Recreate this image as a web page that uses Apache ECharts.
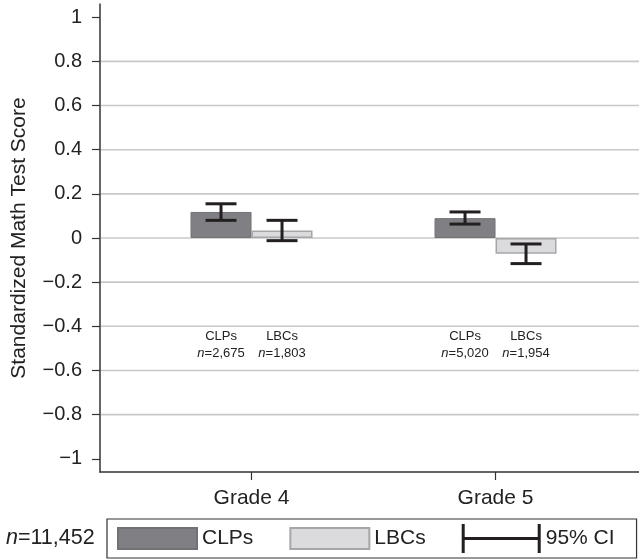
<!DOCTYPE html>
<html><head><meta charset="utf-8">
<script src="https://cdn.jsdelivr.net/npm/echarts@6/dist/echarts.min.js"></script>
<style>html,body{margin:0;padding:0;background:#fff}#c{width:639px;height:560px}</style>
</head><body><div id="c"></div>
<script>
// ---- data ----
const categories = ['Grade 4', 'Grade 5'];
const catPos = [1, 2];
const groups = ['CLPs', 'LBCs'];
const clpMeans = [0.118, 0.090];
const lbcMeans = [0.034, -0.071];
const clpLow = [0.080, 0.063];
const clpHigh = [0.155, 0.118];
const lbcLow = [-0.012, -0.116];
const lbcHigh = [0.080, -0.027];
const clpN = ['2,675', '5,020'];
const lbcN = ['1,803', '1,954'];
const totalN = '11,452';
const yTicks = [-1, -0.8, -0.6, -0.4, -0.2, 0, 0.2, 0.4, 0.6, 0.8, 1];
const gridValues = [-0.8, -0.6, -0.4, -0.2, 0, 0.2, 0.4, 0.6, 0.8];
const ciName = '95% CI';

// ---- style config ----
const FONT = 'Liberation Sans, Arial, Helvetica, sans-serif';
const X_MIN = 0.379, X_MAX = 2.588;
const BAR_W = 61;
const CAP_W = 31;
const annoY = -0.486;
const ERR_COLOR = '#231f20';
const GRID_COLOR = '#c8c8c8';

const errData = [];
catPos.forEach((x, i) => {
  errData.push([x, clpLow[i], clpHigh[i], 0]);
  errData.push([x, lbcLow[i], lbcHigh[i], 1]);
});
const annoData = [];
catPos.forEach((x, i) => {
  annoData.push([x, annoY, 0, clpN[i]]);
  annoData.push([x, annoY, 1, lbcN[i]]);
});
const gridData = gridValues.map(v => [catPos[0], v, v, 0]);

const chart = echarts.init(document.getElementById('c'), null, {renderer: 'canvas'});
chart.setOption({
  animation: false,
  textStyle: {fontFamily: FONT},
  title: {
    text: '{i|n}{r|=' + totalN + '}',
    left: 6, top: 527, padding: 0,
    textStyle: {fontWeight: 'normal', rich: {
      i: {fontStyle: 'italic', fontWeight: 'normal', fontSize: 21.5, color: '#222', fontFamily: FONT},
      r: {fontWeight: 'normal', fontSize: 21.5, color: '#222', fontFamily: FONT}
    }}
  },
  legend: {
    data: [
      {name: groups[0], icon: 'path://M0,0H79V21H0Z'},
      {name: groups[1], icon: 'path://M0,0H79V21H0Z'},
      {name: ciName, icon: 'path://M0,0H3V29H0Z M3,13H76V16H3Z M76,0H79V29H76Z'}
    ],
    left: 107, top: 519,
    padding: [5, 22, 5, 10],
    itemWidth: 79, itemHeight: 29, itemGap: 36,
    borderColor: '#333', borderWidth: 1.2,
    selectedMode: false,
    textStyle: {fontSize: 21, color: '#222', fontFamily: FONT}
  },
  grid: {left: 100, right: 0, top: 4, bottom: 88},
  xAxis: {
    type: 'value', min: X_MIN, max: X_MAX,
    axisLine: {show: true, onZero: false, lineStyle: {color: '#333', width: 1.5}},
    axisTick: {show: true, length: 8, customValues: catPos, lineStyle: {color: '#333', width: 1.2}},
    axisLabel: {customValues: catPos, margin: 16, fontSize: 21, color: '#222',
      formatter: v => categories[catPos.indexOf(Math.round(v))]},
    splitLine: {show: false}
  },
  yAxis: {
    type: 'value', min: -1.06, max: 1.06,
    name: 'Standardized Math Test Score', nameLocation: 'middle', nameGap: 70,
    nameTextStyle: {fontSize: 21, color: '#222', fontFamily: FONT},
    axisLine: {show: true, onZero: false, lineStyle: {color: '#333', width: 1.5}},
    axisTick: {show: true, length: 8, customValues: yTicks, lineStyle: {color: '#333', width: 1.2}},
    axisLabel: {customValues: yTicks, margin: 18, fontSize: 20, color: '#222',
      formatter: v => (v < 0 ? '\u2212' : '') + String(+Math.abs(v).toFixed(1))},
    splitLine: {show: false}
  },
  series: [
    {
      name: groups[0], type: 'bar', barWidth: BAR_W, barGap: '0%', z: 3,
      itemStyle: {color: '#808084', borderColor: '#727276', borderWidth: 1},
      data: catPos.map((x, i) => [x, clpMeans[i]])
    },
    {
      name: groups[1], type: 'bar', barWidth: BAR_W, barGap: '0%', z: 3,
      itemStyle: {color: '#dbdbdd', borderColor: '#a6a6a9', borderWidth: 1.5},
      data: catPos.map((x, i) => [x, lbcMeans[i]])
    },
    {
      name: ciName, type: 'custom', z: 5,
      itemStyle: {color: ERR_COLOR},
      data: errData,
      renderItem: (params, api) => {
        const off = (api.value(3) === 0 ? -1 : 1) * BAR_W / 2;
        const lo = api.coord([api.value(0), api.value(1)]);
        const hi = api.coord([api.value(0), api.value(2)]);
        const cx = lo[0] + off;
        const st = {stroke: ERR_COLOR, lineWidth: 3, fill: null};
        return {type: 'group', children: [
          {type: 'line', shape: {x1: cx, y1: lo[1], x2: cx, y2: hi[1]}, style: st},
          {type: 'line', shape: {x1: cx - CAP_W / 2, y1: lo[1], x2: cx + CAP_W / 2, y2: lo[1]}, style: st},
          {type: 'line', shape: {x1: cx - CAP_W / 2, y1: hi[1], x2: cx + CAP_W / 2, y2: hi[1]}, style: st}
        ]};
      }
    },
    {
      name: 'annotations', type: 'custom', z: 5,
      data: annoData, silent: true,
      renderItem: (params, api) => {
        const g = api.value(2);
        const off = (g === 0 ? -1 : 1) * BAR_W / 2;
        const p = api.coord([api.value(0), api.value(1)]);
        const n = annoData[params.dataIndex][3];
        return {type: 'text', x: p[0] + off, y: p[1], style: {
          text: '{a|' + groups[g] + '}\n{i|n}{a|=' + n + '}',
          align: 'center', verticalAlign: 'middle',
          rich: {
            a: {fontSize: 13, fill: '#222', fontFamily: FONT, lineHeight: 17},
            i: {fontSize: 13, fill: '#222', fontStyle: 'italic', fontFamily: FONT, lineHeight: 17}
          }
        }};
      }
    },
    {
      name: 'gridlines', type: 'custom', z: 2,
      itemStyle: {color: GRID_COLOR},
      data: gridData,
      renderItem: (params, api) => {
        const p = api.coord([api.value(0), api.value(1)]);
        const x0 = api.coord([X_MIN, api.value(1)])[0] + 1;
        const x1 = api.coord([X_MAX, api.value(1)])[0];
        return {type: 'group', children: [
          {type: 'line', shape: {x1: x0, y1: p[1], x2: x1, y2: p[1]},
           style: {stroke: GRID_COLOR, lineWidth: 1.6, fill: null}}
        ]};
      }
    }
  ]
});
</script></body></html>
